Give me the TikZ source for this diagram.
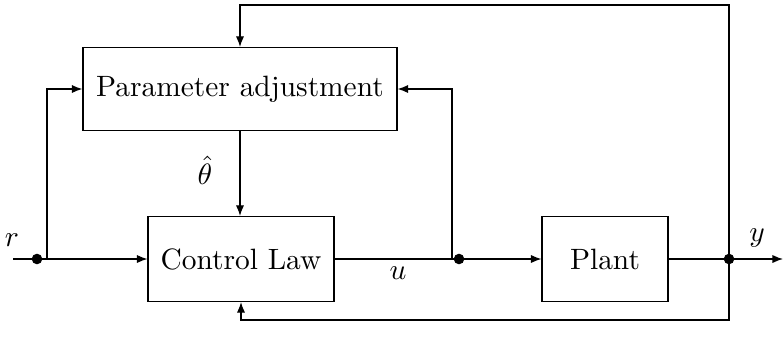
\documentclass[tikz,border=0pt]{standalone}
\usetikzlibrary{arrows.meta}
\begin{document}
\begin{tikzpicture}[x=0.34pt,y=-0.34pt,
  blk/.style={draw,rectangle,inner sep=0pt},
  dotnode/.style={circle,fill,inner sep=0pt,minimum size=3.6pt},
  arr/.style={-{Latex[length=3.6pt,width=2.8pt]}},
  lbl/.style={inner sep=0pt}]
\useasboundingbox (0,0) rectangle (784,346);
% blocks
\node[blk,minimum width=106.8pt,minimum height=28.2pt] (pa) at (240,89) {Parameter adjustment};
\node[blk,minimum width=63.2pt,minimum height=28.9pt] (cl) at (241,259) {Control Law};
\node[blk,minimum width=42.8pt,minimum height=28.9pt] (plant) at (605,259) {Plant};
% coordinates
\coordinate (rin) at (13,259);
\coordinate (b1) at (47,259);
\coordinate (b2) at (452,259);
\coordinate (yout) at (783,259);
\coordinate (tp) at (729,5);
\coordinate (bt) at (729,320);
% dots
\node[dotnode] (d1) at (37,259) {};
\node[dotnode] (d2) at (459,259) {};
\node[dotnode] (d3) at (729,259) {};
% connectors
\draw[arr] (rin) -- (cl.west);
\draw[arr] (b1) |- (pa.west);
\draw[arr] (cl.east) -- (plant.west);
\draw[arr] (b2) |- (pa.east);
\draw[arr] (plant.east) -- (yout);
\draw[arr] (d3.center) -- (tp) -| (pa.north);
\draw[arr] (d3.center) -- (bt) -| (cl.south);
\draw[arr] (pa.south) -- (pa.south |- cl.north);
% labels
\node[lbl] (lr) at (12,240) {$r$};
\node[lbl] (ly) at (757,238) {$y$};
\node[lbl] (lu) at (398,273) {$u$};
\node[lbl] (lth) at (205,170) {$\hat{\theta}$};
\end{tikzpicture}
\end{document}
